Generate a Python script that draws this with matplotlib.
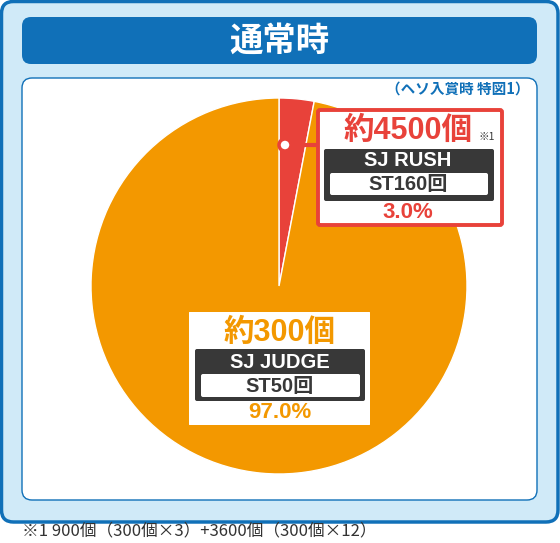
import matplotlib.pyplot as plt
from matplotlib.patches import FancyBboxPatch, Circle

# chart data
labels = ["SJ RUSH", "SJ JUDGE"]
shares = [3.0, 97.0]
balls = ["約4500個", "約300個"]
st_counts = ["ST160回", "ST50回"]
colors = ["#e8423a", "#f39800"]

title = "通常時"
subtitle = "（ヘソ入賞時 特図1）"
footnote = "※1 900個（300個×3）+3600個（300個×12）"

JP = ["Noto Sans CJK JP", "DejaVu Sans"]
LAT = ["Liberation Sans", "Noto Sans CJK JP"]
BLUE = "#1070b8"
DARK = "#383838"

fig = plt.figure(figsize=(5.6, 5.43), dpi=100)
ax = fig.add_axes([0, 0, 1, 1])


def rbox(x0, y0, x1, y1, r, fc, ec="none", lw=0, z=1):
    p = FancyBboxPatch((x0 + r, y0 + r), x1 - x0 - 2 * r, y1 - y0 - 2 * r,
                       boxstyle=f"round,pad={r}", fc=fc, ec=ec, lw=lw, zorder=z)
    ax.add_patch(p)


# outer frame, header, inner panel
rbox(1.5, 1.5, 558, 522, 12, "#d0eaf8", BLUE, 2.5)
rbox(22, 17, 537, 64, 9, BLUE, z=2)
ax.text(279.5, 41, title, family=JP, fontweight="bold", fontsize=24,
        color="white", ha="center", va="center", zorder=3)
rbox(22, 78, 537, 500, 10, "white", BLUE, 1, z=2)
ax.text(529, 89, subtitle, family=JP, fontweight="bold", fontsize=10.5,
        color=BLUE, ha="right", va="center", zorder=3)

# pie, starting at 12 o'clock, going clockwise (y axis is inverted)
ax.pie(shares, colors=colors, startangle=270, counterclock=True,
       center=(279, 286), radius=188, frame=True,
       wedgeprops=dict(edgecolor="white", linewidth=1, zorder=3))


def label_block(cx, box, dark, inner, ys, i, edge):
    x0, y0, x1, y1 = box
    if edge:
        rbox(x0, y0, x1, y1, 2, "white", colors[i], 2.8, z=5)
    else:
        rbox(x0, y0, x1, y1, 0.5, "white", z=5)
    rbox(*dark, 2, DARK, z=6)
    rbox(*inner, 2, "white", z=7)
    ax.text(cx, ys[0], balls[i], family=LAT, fontweight="bold", fontsize=22,
            color=colors[i], ha="center", va="center", zorder=8)
    ax.text(cx, ys[1], labels[i], family=LAT, fontweight="bold", fontsize=14.5,
            color="white", ha="center", va="center", zorder=8)
    ax.text(cx, ys[2], st_counts[i], family=LAT, fontweight="bold", fontsize=14.5,
            color=DARK, ha="center", va="center", zorder=8)
    ax.text(cx, ys[3], f"{shares[i]:.1f}%", family=LAT, fontweight="bold",
            fontsize=16, color=colors[i], ha="center", va="center", zorder=8)


# SJ RUSH callout
ax.plot([285, 318], [145, 145], color=colors[0], lw=3, zorder=4,
        solid_capstyle="butt")
ax.add_patch(Circle((285, 145), 6, fc="white", ec=colors[0], lw=2.5, zorder=6))
label_block(408, (318, 110, 502, 225), (324, 149, 494, 201),
            (330, 173, 488, 195), (131, 161, 184, 213), 0, True)
ax.text(479, 137, "※1", family=JP, fontsize=7.5, color=DARK,
        ha="left", va="center", zorder=8)

# SJ JUDGE callout
label_block(280, (189, 312, 370, 425), (195, 349, 365, 401),
            (201, 374, 360, 397), (333, 362, 386, 413), 1, False)

ax.text(22, 531, footnote, family=JP, fontsize=12, color="#333333",
        ha="left", va="center")

ax.set_xlim(0, 560)
ax.set_ylim(543, 0)
ax.set_aspect("auto")
ax.axis("off")

fig.savefig("out.png", dpi=100)
